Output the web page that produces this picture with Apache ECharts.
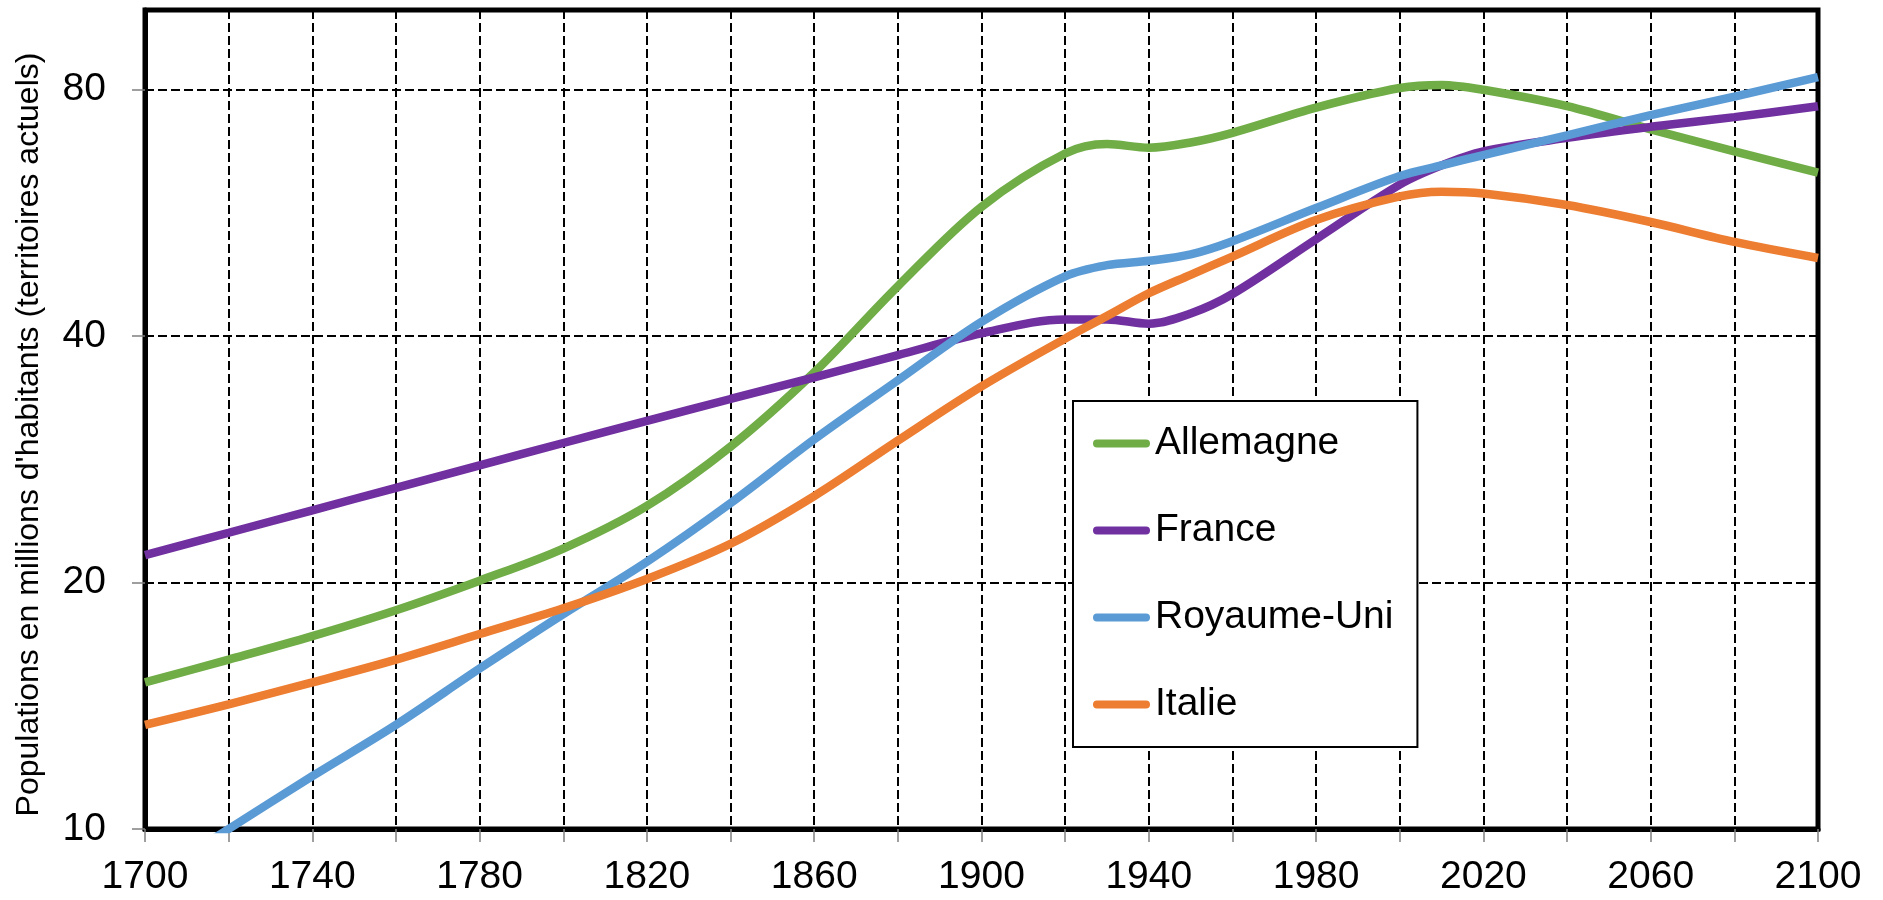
<!DOCTYPE html>
<html>
<head>
<meta charset="utf-8">
<script src="https://cdn.jsdelivr.net/npm/echarts@6/dist/echarts.min.js"></script>
<style>
html, body { margin: 0; padding: 0; background: #ffffff; }
#chart { width: 1883px; height: 900px; }
</style>
</head>
<body>
<div id="chart"></div>
<script>
// ---- Data (population in millions, current territories) ----
const years      = [1700, 1720, 1740, 1760, 1780, 1800, 1820, 1840, 1860, 1880, 1900, 1920, 1930, 1940, 1950, 1960, 1980, 2000, 2010, 2020, 2040, 2060, 2080, 2100];
const allemagne  = [15.1, 16.1, 17.2, 18.5, 20.1, 22.0, 24.8, 29.3, 36.1, 46.0, 57.5, 66.8, 68.6, 67.9, 68.9, 70.8, 76.0, 80.3, 81.0, 79.9, 76.3, 71.5, 67.2, 63.3];
const france     = [21.6, 23.0, 24.5, 26.1, 27.8, 29.6, 31.5, 33.5, 35.6, 37.9, 40.3, 41.9, 41.9, 41.4, 42.6, 45.0, 52.5, 61.2, 64.6, 67.2, 69.8, 72.0, 74.0, 76.3];
const royaumeUni = [8.6, 10.0, 11.6, 13.4, 15.7, 18.3, 21.2, 25.0, 29.9, 35.3, 41.6, 47.3, 48.8, 49.4, 50.3, 52.2, 57.3, 62.7, 64.6, 66.5, 70.3, 74.4, 78.4, 82.8];
const italie     = [13.4, 14.2, 15.1, 16.1, 17.3, 18.6, 20.2, 22.3, 25.5, 29.8, 34.7, 39.7, 42.3, 45.1, 47.5, 50.0, 55.4, 59.2, 60.0, 59.7, 57.8, 55.1, 52.1, 49.8];

const seriesNames = ['Allemagne', 'France', 'Royaume-Uni', 'Italie'];
const seriesData  = [allemagne, france, royaumeUni, italie];
const colors      = ['#70AD47', '#7030A0', '#5B9BD5', '#ED7D31'];

const xLabelValues = [1700, 1740, 1780, 1820, 1860, 1900, 1940, 1980, 2020, 2060, 2100];
const yTickValues  = [10, 20, 40, 80];
const yAxisTitle   = "Populations en millions d'habitants (territoires actuels)";

// ---- Chart ----
const FONT = '"Liberation Sans", Arial, sans-serif';
const chart = echarts.init(document.getElementById('chart'), null, { renderer: 'canvas' });

const gridLine = { show: true, lineStyle: { color: '#000', width: 2, type: [9, 4] } };
// capsule-shaped legend icon (thick line with round caps)
const capsuleIcon = 'path://M4,0 L53,0 A4,4 0 0 1 53,8 L4,8 A4,4 0 0 1 4,0 Z';

const option = {
  backgroundColor: '#ffffff',
  animation: false,
  textStyle: { fontFamily: FONT, color: '#000' },
  grid: {
    left: 145, right: 65, top: 10, bottom: 71,
    show: true, borderColor: '#000', borderWidth: 5, backgroundColor: 'transparent'
  },
  legend: {
    orient: 'vertical',
    left: 1073, top: 401,
    padding: [23, 24, 23, 20],
    backgroundColor: '#fff',
    borderColor: '#000', borderWidth: 2,
    itemWidth: 57, itemHeight: 8, itemGap: 48,
    icon: capsuleIcon,
    textStyle: { fontSize: 39, color: '#000', fontFamily: FONT },
    data: seriesNames
  },
  xAxis: {
    type: 'value',
    min: 1700, max: 2100, interval: 20,
    axisLine: { show: true, lineStyle: { color: '#000', width: 5 } },
    axisTick: { show: true, inside: false, length: 13, lineStyle: { color: '#808080', width: 1.5 } },
    axisLabel: {
      customValues: xLabelValues,
      margin: 29,
      fontSize: 39, color: '#000', fontFamily: FONT,
      formatter: function (v) { return ((v - 1700) % 40 === 0) ? String(v) : ''; }
    },
    splitLine: gridLine
  },
  yAxis: {
    type: 'log',
    logBase: 2,
    min: 10, max: 100,
    name: yAxisTitle,
    nameLocation: 'middle',
    nameGap: 100,
    nameTextStyle: { fontSize: 32, color: '#000', fontFamily: FONT, padding: [0, 30, 0, 0] },
    axisLine: { show: true, lineStyle: { color: '#000', width: 5 } },
    axisTick: { show: true, inside: false, length: 13, customValues: yTickValues, lineStyle: { color: '#808080', width: 1.5 } },
    axisLabel: {
      customValues: yTickValues,
      margin: 39,
      fontSize: 39, color: '#000', fontFamily: FONT,
      formatter: function (v) { return String(Math.round(v)); }
    },
    splitLine: gridLine
  },
  series: seriesNames.map(function (name, i) {
    return {
      name: name,
      type: 'line',
      data: years.map(function (y, j) { return [y, seriesData[i][j]]; }),
      smooth: 0.33,
      symbol: 'none',
      color: colors[i],
      itemStyle: { color: colors[i] },
      lineStyle: { color: colors[i], width: 8.5 },
      z: 2 + i
    };
  })
};

chart.setOption(option);
</script>
</body>
</html>
